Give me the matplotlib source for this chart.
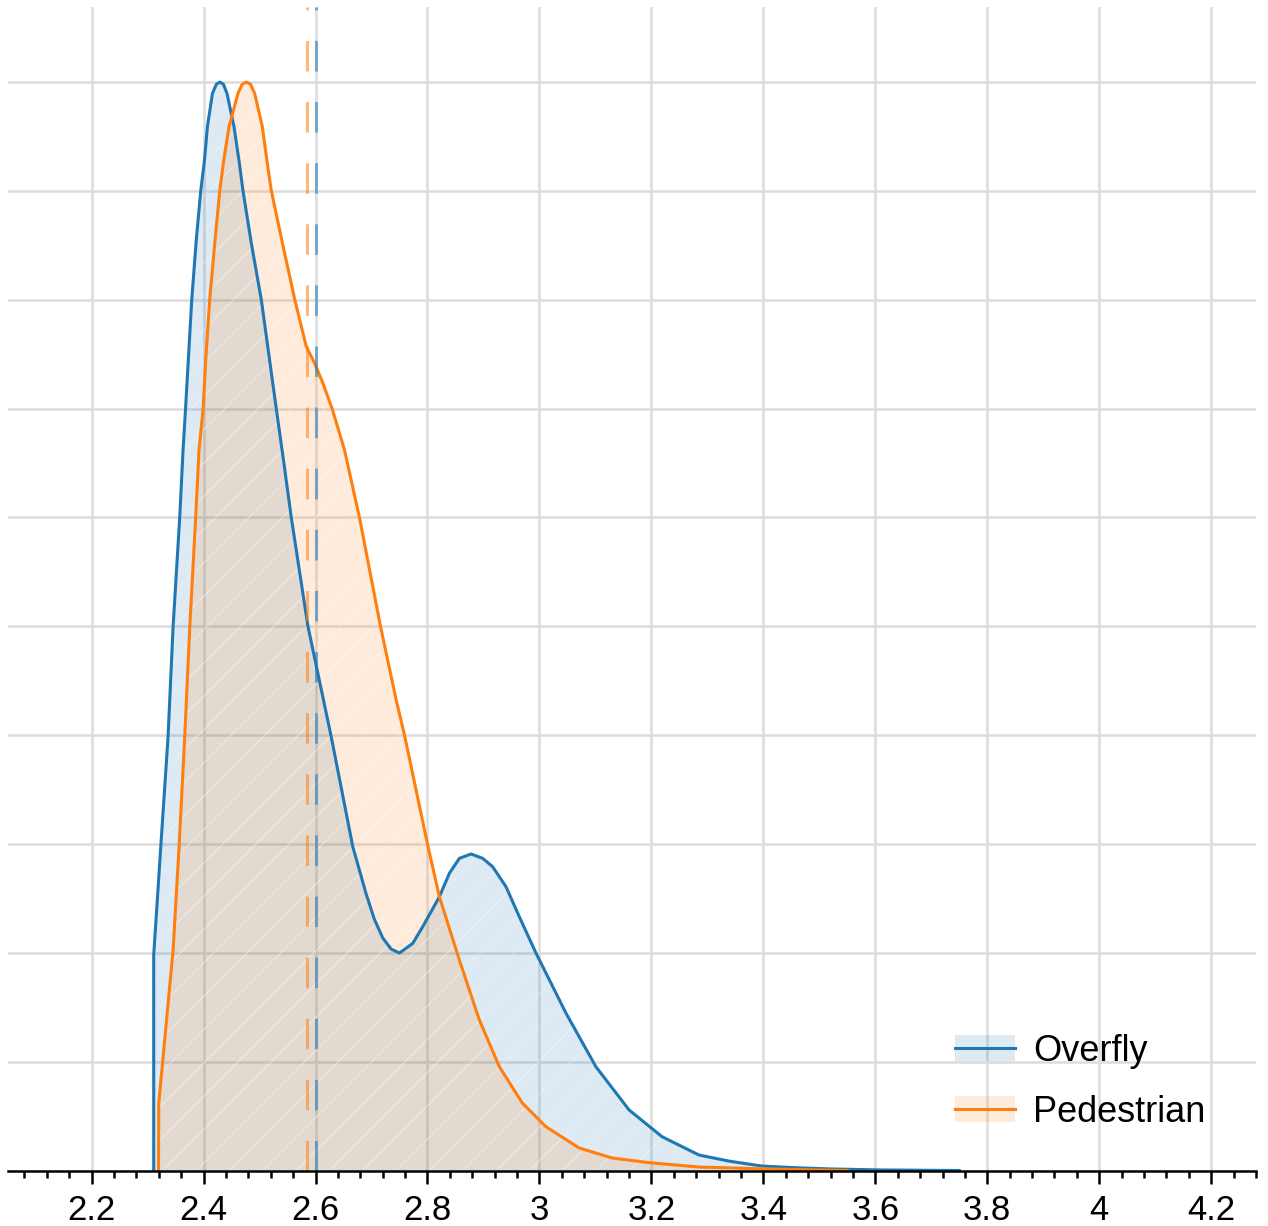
import matplotlib
matplotlib.use("Agg")
import matplotlib.pyplot as plt
from matplotlib.patches import Patch
from matplotlib.lines import Line2D

plt.rcParams['font.family'] = ['Liberation Sans', 'DejaVu Sans']
plt.rcParams['hatch.linewidth'] = 1.0

# density curves (peak scaled to 1)
overfly_x = [2.311, 2.311, 2.3236, 2.3366, 2.3456, 2.3575, 2.3634, 2.3677, 2.3789,
             2.387, 2.395, 2.4016, 2.4069, 2.4159, 2.4229, 2.429, 2.4355, 2.4419,
             2.4544, 2.4633, 2.4705, 2.4854, 2.5033, 2.518, 2.53, 2.5435, 2.5568,
             2.5864, 2.6281, 2.6666, 2.6905, 2.705, 2.7202, 2.735, 2.75, 2.7737,
             2.7915, 2.8213, 2.8391, 2.857, 2.8779, 2.8986, 2.9164, 2.9403, 2.964,
             2.9938, 3.0473, 3.1008, 3.1602, 3.2191, 3.2851, 3.34, 3.3975, 3.46,
             3.5224, 3.6115, 3.75]
overfly_y = [0.0, 0.198, 0.2975, 0.3985, 0.4996, 0.6006, 0.662, 0.6987, 0.7997,
             0.855, 0.9, 0.928, 0.959, 0.9896, 0.998, 1.0, 0.998, 0.9896,
             0.959, 0.928, 0.9, 0.8518, 0.7997, 0.7446, 0.6996, 0.65, 0.5997,
             0.5002, 0.3985, 0.2975, 0.254, 0.231, 0.2136, 0.2035, 0.1998, 0.2087,
             0.224, 0.2515, 0.273, 0.2868, 0.2908, 0.2868, 0.2791, 0.2607, 0.2332,
             0.1998, 0.1447, 0.0954, 0.0556, 0.031, 0.0142, 0.0085, 0.0041, 0.0025,
             0.0014, 0.0005, 0.0]

pedestrian_x = [2.3195, 2.32, 2.3456, 2.3563, 2.3664, 2.3754, 2.386, 2.3919, 2.3991,
                2.4039, 2.411, 2.42, 2.4289, 2.436, 2.4455, 2.4615, 2.469, 2.4765,
                2.484, 2.4913, 2.505, 2.5132, 2.5211, 2.541, 2.563, 2.5835, 2.5983,
                2.6131, 2.6299, 2.6518, 2.6786, 2.716, 2.7441, 2.7589, 2.8004,
                2.8213, 2.857, 2.8927, 2.9284, 2.9694, 3.0116, 3.071, 3.1299,
                3.1959, 3.2851, 3.4046, 3.55]
pedestrian_y = [0.0, 0.0617, 0.2026, 0.2975, 0.3985, 0.4996, 0.6006, 0.662, 0.699,
                0.7446, 0.8, 0.8518, 0.9, 0.928, 0.959, 0.9896, 0.998, 1.0,
                0.998, 0.9896, 0.959, 0.928, 0.9, 0.8518, 0.8, 0.757, 0.7418,
                0.7235, 0.6996, 0.662, 0.5997, 0.5002, 0.4323, 0.4001, 0.299,
                0.2515, 0.1934, 0.1383, 0.0954, 0.062, 0.0402, 0.0207, 0.0115,
                0.0072, 0.0032, 0.0014, 0.0]

mean_overfly = 2.600
mean_pedestrian = 2.584

labels = ['Overfly', 'Pedestrian']
colors = ['#1f77b4', '#ff7f0e']

major_ticks = [2.2, 2.4, 2.6, 2.8, 3.0, 3.2, 3.4, 3.6, 3.8, 4.0, 4.2]
major_labels = ['2.2', '2.4', '2.6', '2.8', '3', '3.2', '3.4', '3.6', '3.8', '4', '4.2']

fig = plt.figure(figsize=(12.68, 12.26), dpi=100)
ax = fig.add_axes([8 / 1268, 55.5 / 1226, 1248 / 1268, 1163.5 / 1226])

series = [(overfly_x, overfly_y, colors[0]), (pedestrian_x, pedestrian_y, colors[1])]
for xs, ys, c in series:
    ax.fill_between(xs, ys, 0, facecolor=c, alpha=0.15, linewidth=0, zorder=2)
    ax.fill_between(xs, ys, 0, facecolor='none', edgecolor=(1, 1, 1, 0.25),
                    hatch='/', linewidth=0, zorder=2)
    ax.plot(xs, ys, color=c, lw=2.2, zorder=3, solid_joinstyle='round')

ax.axvline(mean_pedestrian, color=colors[1], alpha=0.55, lw=2.2, ls=(0, (10, 10)), zorder=4)
ax.axvline(mean_overfly, color=colors[0], alpha=0.55, lw=2.2, ls=(0, (10, 10)), zorder=4)

ax.set_xlim(2.0507, 4.2769)
ax.set_ylim(0, 1.069)

ax.set_xticks(major_ticks)
ax.set_xticklabels(major_labels, fontsize=25)
ax.set_xticks([2.08 + 0.04 * i for i in range(56)], minor=True)
ax.tick_params(axis='x', which='major', length=9, width=1.8, pad=8, color='black')
ax.tick_params(axis='x', which='minor', length=5, width=1.8, color='black')
ax.set_yticks([0.1 * i for i in range(1, 11)])
ax.tick_params(axis='y', which='both', left=False, labelleft=False)

ax.set_axisbelow(True)
ax.grid(True, which='major', color='#dcdcdc', lw=1.8)

for side in ['top', 'right', 'left']:
    ax.spines[side].set_visible(False)
ax.spines['bottom'].set_linewidth(1.8)
ax.spines['bottom'].set_zorder(5)

handles = [(Patch(facecolor=c, alpha=0.15, linewidth=0), Line2D([], [], color=c, lw=2.2))
           for c in colors]
ax.legend(handles, labels, loc='lower left', bbox_to_anchor=(0.759, 0.035),
          frameon=False, fontsize=26, handlelength=1.65, handleheight=0.7,
          handletextpad=0.5, labelspacing=0.72, borderpad=0, borderaxespad=0)

fig.savefig('out.png', dpi=100)
